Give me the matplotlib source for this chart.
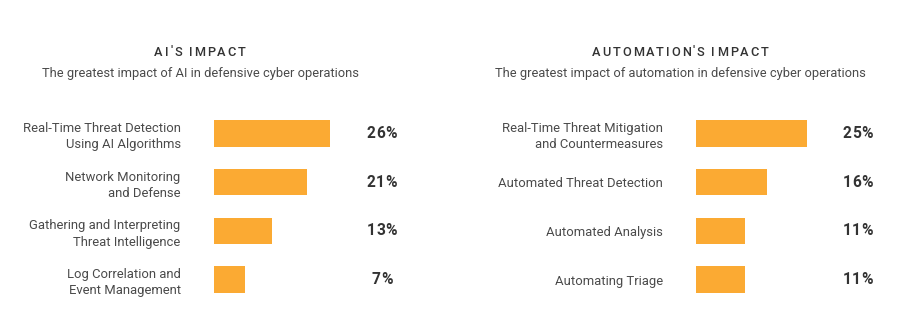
import matplotlib
matplotlib.use('agg')
import matplotlib.pyplot as plt

# data
ai_labels = ['Real-Time Threat Detection\nUsing AI Algorithms',
             'Network Monitoring\nand Defense',
             'Gathering and Interpreting\nThreat Intelligence',
             'Log Correlation and\nEvent Management']
ai_values = [26, 21, 13, 7]

auto_labels = ['Real-Time Threat Mitigation\nand Countermeasures',
               'Automated Threat Detection',
               'Automated Analysis',
               'Automating Triage']
auto_values = [25, 16, 11, 11]

W, H = 922, 330
BAR = '#FBAA33'
TXT = '#4a4a4a'
DARK = '#333333'
SCALE = 4.45   # px per percent
SLOT = 48.67   # px per bar row

plt.rcParams['font.family'] = ['Roboto', 'DejaVu Sans']

fig = plt.figure(figsize=(W / 100, H / 100), dpi=100)


def px_axes(left, top, width, height):
    return fig.add_axes([left / W, 1 - (top + height) / H, width / W, height / H])


def spaced_text(xc, yc, s, spacing, **kw):
    # matplotlib has no letter-spacing, so lay the characters out one by one
    r = fig.canvas.get_renderer()
    ts, ws = [], []
    for ch in s:
        t = fig.text(0, 1 - yc / H, ch, va='center', ha='left', **kw)
        ws.append(t.get_window_extent(r).width)
        ts.append(t)
    total = sum(ws) + spacing * (len(s) - 1)
    x = xc - total / 2
    for t, w in zip(ts, ws):
        t.set_x(x / W)
        x += w + spacing


def panel(left, labels, values, title, subtitle, xc, pct_x):
    ax = px_axes(left, 133.5 - SLOT / 2, 30 * SCALE, 4 * SLOT)
    ax.barh(range(len(values)), values, height=0.545, color=BAR)
    ax.set_xlim(0, 30)
    ax.set_ylim(len(values) - 0.5, -0.5)
    ax.set_yticks(range(len(values)), labels, fontsize=9.4, color=TXT, linespacing=1.32)
    ax.tick_params(axis='y', length=0, pad=24)
    ax.set_xticks([])
    for s in ax.spines.values():
        s.set_visible(False)
    ax.patch.set_alpha(0)
    for i, v in enumerate(values):
        spaced_text(left + pct_x * SCALE, 133.5 + i * SLOT, f'{v}%', 0.4,
                    fontsize=11.2, fontweight='bold', color=DARK)
    spaced_text(xc, 52, title, 1.9, fontsize=9.2, fontweight='medium', color=DARK)
    fig.text(xc / W, 1 - 74 / H, subtitle, ha='center', va='center', fontsize=9.3, color=TXT)


panel(214, ai_labels, ai_values, "AI'S IMPACT",
      'The greatest impact of AI in defensive cyber operations', 200, 37.75)
panel(696, auto_labels, auto_values, "AUTOMATION'S IMPACT",
      'The greatest impact of automation in defensive cyber operations', 680, 36.4)

fig.savefig('out.png', dpi=100, facecolor='white')
